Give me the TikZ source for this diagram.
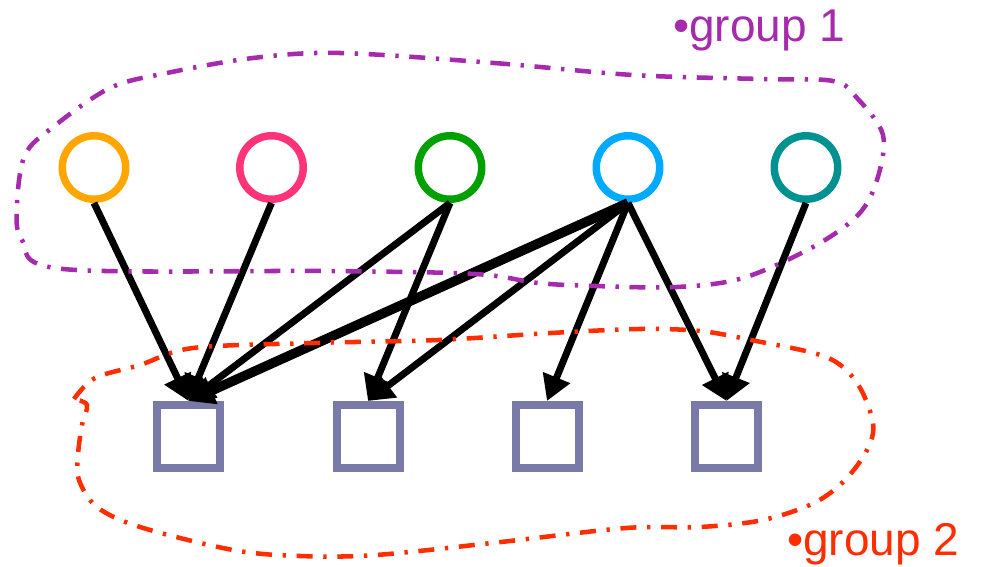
\documentclass[tikz,border=0pt]{standalone}
\usepackage{fontspec}
\setmainfont{Liberation Sans}
\usetikzlibrary{arrows.meta}

\definecolor{orangec}{RGB}{255,166,0}
\definecolor{pinkc}{RGB}{255,51,119}
\definecolor{greenc}{RGB}{0,160,0}
\definecolor{bluec}{RGB}{0,170,255}
\definecolor{tealc}{RGB}{0,145,145}
\definecolor{boxc}{RGB}{122,122,168}
\definecolor{grpone}{RGB}{166,42,173}
\definecolor{grptwo}{RGB}{255,45,0}

\begin{document}
\begin{tikzpicture}[x=0.75pt,y=-0.75pt]
    \useasboundingbox (0,0) rectangle (981,567);

    \begin{scope}[every node/.style={circle,draw,line width=5.6pt,minimum size=47.6pt,inner sep=0pt}]
        \node[draw=orangec] (u1) at (94,167.5) {};
        \node[draw=pinkc] (u2) at (271.5,167.5) {};
        \node[draw=greenc] (u3) at (450,167.5) {};
        \node[draw=bluec] (u4) at (628,167.5) {};
        \node[draw=tealc] (u5) at (806,167.5) {};
    \end{scope}

    \begin{scope}[every node/.style={rectangle,draw=boxc,line width=6pt,minimum size=47.25pt,inner sep=0pt}]
        \node (v1) at (188.5,436.5) {};
        \node (v2) at (368,436.5) {};
        \node (v3) at (547,436.5) {};
        \node (v4) at (726.5,436.5) {};
    \end{scope}

    \begin{scope}[every edge/.style={draw=black,line width=5.2pt,-{Triangle[length=19pt,width=21pt]}}]
        \path (u1.south) edge (v1.north);
        \path (u2.south) edge (v1.north);
        \path (u3.south) edge (v1.north);
        \path (u3.south) edge (v2.north);
        \path (u4.south) edge [line width=7.2pt] (v1.north);
        \path (u4.south) edge (v2.north);
        \path (u4.south) edge (v3.north);
        \path (u4.south) edge (v4.north);
        \path (u5.south) edge (v4.north);
    \end{scope}

    % group outlines
    \begin{scope}[line width=3.4pt,dash pattern=on 12pt off 8pt on 2.5pt off 8pt]
        \draw[grpone] plot[smooth cycle,tension=0.55] coordinates {
            (340,53) (494,63) (633,75) (760,79) (833,81) (857,98) (883,135)
            (877,180) (858,215) (813,247) (743,278) (677,287) (595,286)
            (538,283) (475,274) (330,271) (63,269) (22,240) (17,205)
            (25,155) (53,127) (110,88) (167,73) (253,58)};
        \draw[grptwo] plot[smooth,tension=0.55] coordinates {
            (74,399) (95,378) (140,365) (193,348) (313,343) (438,340)
            (551,333) (640,329) (700,331) (751,340) (826,357) (857,383)
            (873,423) (867,450) (845,480) (814,503) (763,520) (700,527)
            (626,528) (501,542) (376,555) (300,556) (233,550) (140,527)
            (97,507) (79,480) (78,455) (82,425) (87,405) (74,399)};
    \end{scope}

    \node[grpone,anchor=base west,inner sep=0pt,font=\fontsize{34.5}{40}\selectfont] (g1) at (673,42) {\textbullet group 1};
    \node[grptwo,anchor=base west,inner sep=0pt,font=\fontsize{34.5}{40}\selectfont] (g2) at (787,555) {\textbullet group 2};

\end{tikzpicture}
\end{document}
